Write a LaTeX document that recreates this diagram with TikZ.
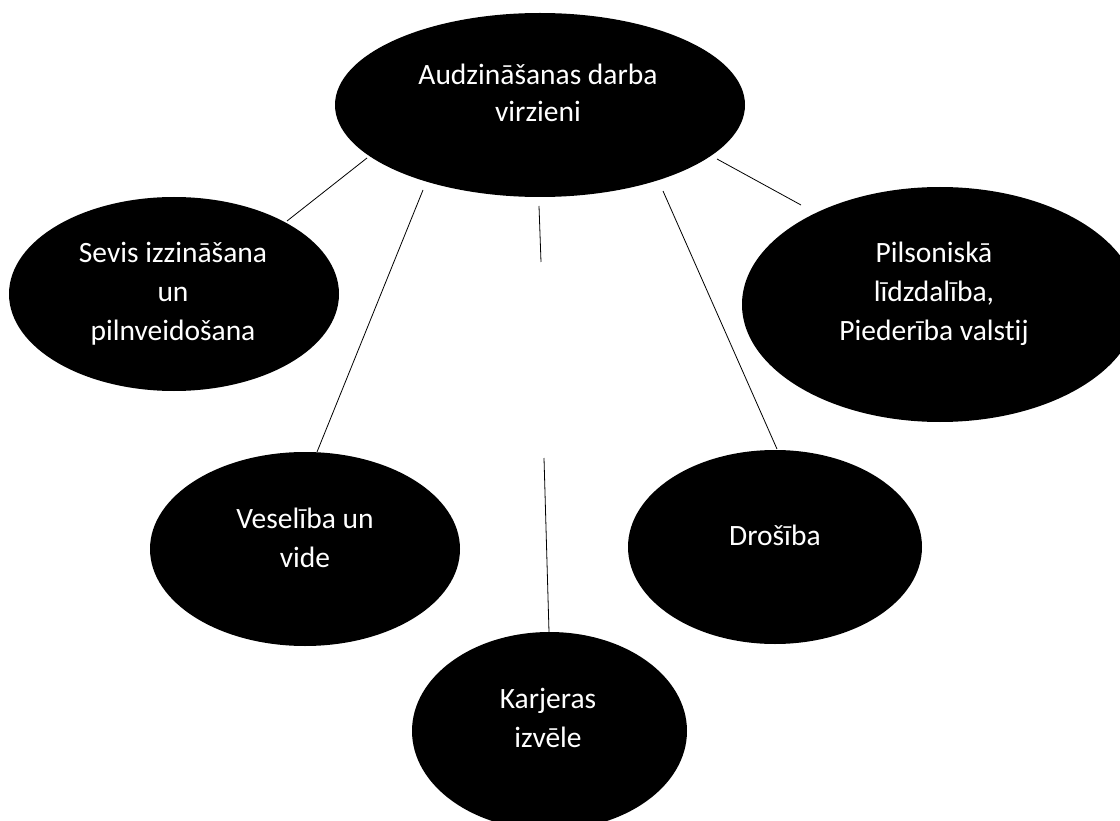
\documentclass[tikz,border=0pt]{standalone}
\usepackage{fontspec}
\setmainfont{Carlito}[Ligatures={NoCommon,NoRare,NoContextual}]
\usetikzlibrary{shapes.geometric}
\newcommand{\stacklines}[1]{\begin{tabular}[t]{@{}c@{}}#1\end{tabular}}
\begin{document}
\begin{tikzpicture}[x=1pt,y=-1pt,
  blob/.style={ellipse, fill=black, draw=none, inner sep=0pt, outer sep=0pt},
  lbl/.style={text=white, font=\fontsize{29.5}{39}\selectfont, inner sep=0pt, anchor=base},
  link/.style={draw=black, line width=0.8pt}]
\useasboundingbox (0,0) rectangle (1120,821);
\clip (0,0) rectangle (1120,821);
% ellipses
\node[blob, minimum width=410pt, minimum height=184pt] (top) at (540,105) {};
\node[blob, minimum width=330pt, minimum height=194pt] (sevis) at (174,294) {};
\node[blob, minimum width=396pt, minimum height=235pt] (pils) at (940,304.5) {};
\node[blob, minimum width=310pt, minimum height=194pt] (ves) at (305,549) {};
\node[blob, minimum width=294pt, minimum height=194pt] (dros) at (775,547) {};
\node[blob, minimum width=275pt, minimum height=198pt] (karj) at (549.5,731) {};
% texts
\node[lbl, font=\fontsize{29.5}{37}\selectfont] (ttop) at (538,85) {\stacklines{Audzināšanas darba\\virzieni}};
\node[lbl] (tsevis) at (173,263) {\stacklines{Sevis izzināšana\\un\\pilnveidošana}};
\node[lbl] (tpils) at (934,263) {\stacklines{Pilsoniskā\\līdzdalība,\\Piederība valst\kern0pt ij}};
\node[lbl] (tves) at (305,528) {\stacklines{Veselība un\\vide}};
\node[lbl] (tdros) at (775,545) {Drošība};
\node[lbl] (tkarj) at (548,708) {\stacklines{Karjeras\\izvēle}};
% connector end points
\coordinate (a1) at (287,221); \coordinate (a2) at (367,158);
\coordinate (b1) at (317,452); \coordinate (b2) at (423,190);
\coordinate (c1) at (539,206); \coordinate (c2) at (541,262);
\coordinate (d1) at (544,458); \coordinate (d2) at (549,632);
\coordinate (e1) at (663,191); \coordinate (e2) at (777,449);
\coordinate (f1) at (717,159); \coordinate (f2) at (801,205);
\draw[link] (a1) -- (a2);
\draw[link] (b1) -- (b2);
\draw[link] (c1) -- (c2);
\draw[link] (d1) -- (d2);
\draw[link] (e1) -- (e2);
\draw[link] (f1) -- (f2);
\end{tikzpicture}
\end{document}
